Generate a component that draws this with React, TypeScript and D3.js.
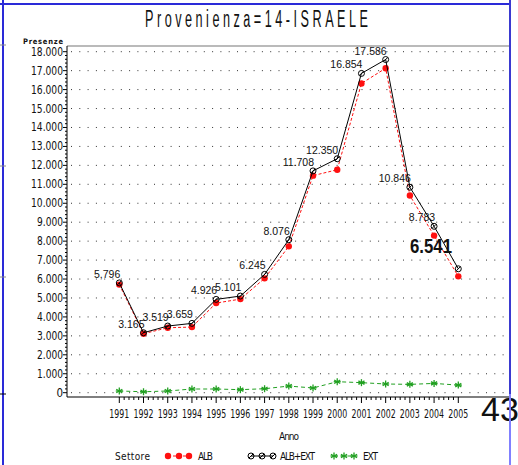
import * as d3 from 'd3';

// anni e valori (presenze)
const years = [1991, 1992, 1993, 1994, 1995, 1996, 1997, 1998, 1999, 2000, 2001, 2002, 2003, 2004, 2005];
const albExt = [5796, 3165, 3519, 3659, 4926, 5101, 6245, 8076, 11708, 12350, 16854, 17586, 10846, 8783, 6541];
const ext = [90, 50, 90, 195, 195, 160, 210, 350, 250, 580, 530, 460, 440, 490, 400];
const alb = [5706, 3115, 3429, 3464, 4731, 4941, 6035, 7726, 11458, 11770, 16324, 17126, 10406, 8293, 6141];
const pointLabels = ['5,796', '3.165', '3.519', '3.659', '4.926', '5.101', '6.245', '8.076', '11.708', '12.350', '16.854', '17.586', '10.846', '8.783', ''];
const yTicks = d3.range(0, 18001, 1000);

const W = 518;
const H = 465;
const axisFont = "'Liberation Sans Narrow', 'DejaVu Sans Condensed', 'Liberation Sans', sans-serif";
const labelFont = "'Liberation Sans', Arial, sans-serif";

const x = d3.scaleLinear().domain([1991, 2005]).range([119.3, 458.3]);
const y = d3.scaleLinear().domain([0, 18000]).range([392.7, 51.7]);

const AXIS_X = 67;
const AXIS_Y = 397;
const RIGHT = 510;
const TOP = 46;

function Star({ cx, cy, r = 3.5, color }: { cx: number; cy: number; r?: number; color: string }) {
  const angles = [0, 60, 120];
  return (
    <g stroke={color} strokeWidth={1.3}>
      {angles.map(a => {
        const rad = (a * Math.PI) / 180;
        return <line key={a} x1={cx - r * Math.sin(rad)} y1={cy - r * Math.cos(rad)} x2={cx + r * Math.sin(rad)} y2={cy + r * Math.cos(rad)} />;
      })}
      <line x1={cx - r} y1={cy} x2={cx + r} y2={cy} />
    </g>
  );
}

function CircleMark({ cx, cy }: { cx: number; cy: number }) {
  return (
    <g stroke="#000" fill="none" strokeWidth={1}>
      <circle cx={cx} cy={cy} r={3} />
      <line x1={cx - 2} y1={cy + 2} x2={cx + 2} y2={cy - 2} />
    </g>
  );
}

export default function App() {
  const lineGen = (vals: number[]) =>
    d3.line<number>().x((_, i) => x(years[i])).y(d => y(d))(vals) ?? '';

  const minorY = d3.range(0, 18001, 200).filter(v => v % 1000 !== 0);
  const minorX = d3.range(1991, 2005, 0.2).filter(v => Math.abs(v - Math.round(v)) > 0.01);
  const fmt = (v: number) => d3.format(',')(v).replace(',', '.');

  return (
    <svg width={W} height={H} style={{ position: 'absolute', left: 0, top: 0, background: '#fff' }}>
      {/* bordi blu della pagina */}
      <line x1={0} y1={4} x2={RIGHT} y2={4} stroke="#2a2ad8" strokeWidth={2} />
      <line x1={3} y1={0} x2={3} y2={H} stroke="#2a2ad8" strokeWidth={2} />
      {[45, 166, 277].map(v => <line key={v} x1={0} y1={v} x2={6} y2={v} stroke="#888" strokeWidth={1} />)}
      <line x1={0} y1={394} x2={6} y2={394} stroke="#000" strokeWidth={1} />

      {/* titolo: caratteri stretti e spaziati */}
      <text transform="translate(145,27) scale(0.55,1)" fontFamily={labelFont} fontSize={23}
        textLength={223 / 0.55} lengthAdjust="spacing" fill="#111">Provenienza=14-ISRAELE</text>

      {/* griglia puntinata */}
      {yTicks.map(t => (
        <line key={t} x1={AXIS_X + 4} x2={RIGHT} y1={y(t)} y2={y(t)} stroke="#333" strokeWidth={1} strokeDasharray="1,7.3" />
      ))}

      {/* cornice e assi */}
      <line x1={AXIS_X} y1={TOP} x2={RIGHT} y2={TOP} stroke="#777" strokeWidth={1.2} />
      <line x1={AXIS_X} y1={TOP} x2={AXIS_X} y2={AXIS_Y} stroke="#000" strokeWidth={1} />
      <line x1={AXIS_X} y1={AXIS_Y} x2={RIGHT} y2={AXIS_Y} stroke="#000" strokeWidth={1.2} />

      {yTicks.map(t => (
        <g key={t}>
          <line x1={AXIS_X - 4} x2={AXIS_X} y1={y(t)} y2={y(t)} stroke="#000" />
          <text x={63} y={y(t) + 4} textAnchor="end" fontFamily={axisFont} fontSize={11.5}
            textLength={t === 0 ? undefined : (t >= 10000 ? 32 : 26)} lengthAdjust="spacingAndGlyphs" fill="#111">
            {t === 0 ? '0' : fmt(t)}
          </text>
        </g>
      ))}
      {minorY.map(t => <line key={t} x1={AXIS_X - 2} x2={AXIS_X} y1={y(t)} y2={y(t)} stroke="#000" />)}
      <text x={63} y={44} textAnchor="end" fontFamily={axisFont} fontSize={7.5} fontWeight={700}
        textLength={40} lengthAdjust="spacing" fill="#111">Presenze</text>

      {years.map(yr => (
        <g key={yr}>
          <line x1={x(yr)} x2={x(yr)} y1={AXIS_Y} y2={AXIS_Y + 6} stroke="#000" />
          <text x={x(yr)} y={418} textAnchor="middle" fontFamily={axisFont} fontSize={11.5}
            textLength={20} lengthAdjust="spacingAndGlyphs" fill="#111">{yr}</text>
        </g>
      ))}
      {minorX.map(v => <line key={v} x1={x(v)} x2={x(v)} y1={AXIS_Y} y2={AXIS_Y + 3} stroke="#000" />)}
      <text x={289} y={440} textAnchor="middle" fontFamily={axisFont} fontSize={10}
        textLength={20} lengthAdjust="spacing" fill="#111">Anno</text>

      {/* serie EXT */}
      <path d={lineGen(ext)} fill="none" stroke="#22a022" strokeWidth={1} strokeDasharray="4,3" />
      {ext.map((v, i) => <Star key={i} cx={x(years[i])} cy={y(v)} color="#22a022" />)}

      {/* serie ALB */}
      <path d={lineGen(alb)} fill="none" stroke="#ff1010" strokeWidth={1} strokeDasharray="3,2" />
      {alb.map((v, i) => <circle key={i} cx={x(years[i])} cy={y(v)} r={3.2} fill="#ff1010" />)}

      {/* serie ALB+EXT */}
      <path d={lineGen(albExt)} fill="none" stroke="#000" strokeWidth={1} />
      {albExt.map((v, i) => <CircleMark key={i} cx={x(years[i])} cy={y(v)} />)}
      {albExt.map((v, i) => (
        <text key={i} x={x(years[i]) + 1} y={y(v) - 5} textAnchor="end" fontFamily={labelFont} fontSize={10.5}
          fill="#111">{pointLabels[i]}</text>
      ))}
      <text x={410} y={253} fontFamily={labelFont} fontSize={21} fontWeight={700}
        textLength={42} lengthAdjust="spacingAndGlyphs" fill="#111">{fmt(albExt[14])}</text>

      {/* legenda */}
      <text x={115} y={460} fontFamily={axisFont} fontSize={10} textLength={35} lengthAdjust="spacing" fill="#111">Settore</text>
      <line x1={168} x2={189} y1={456} y2={456} stroke="#ff1010" strokeDasharray="3,2" />
      {[168, 179, 189].map(c => <circle key={c} cx={c} cy={456} r={3.2} fill="#ff1010" />)}
      <text x={198} y={460} fontFamily={axisFont} fontSize={10} textLength={15} lengthAdjust="spacing" fill="#111">ALB</text>
      <line x1={251} x2={273} y1={456} y2={456} stroke="#000" />
      {[251, 262, 273].map(c => <CircleMark key={c} cx={c} cy={456} />)}
      <text x={280} y={460} fontFamily={axisFont} fontSize={10} textLength={35} lengthAdjust="spacing" fill="#111">ALB+EXT</text>
      <line x1={334} x2={354} y1={456} y2={456} stroke="#22a022" strokeDasharray="4,3" />
      {[334, 344, 354].map(c => <Star key={c} cx={c} cy={456} color="#22a022" />)}
      <text x={363} y={460} fontFamily={axisFont} fontSize={10} textLength={15} lengthAdjust="spacing" fill="#111">EXT</text>

      {/* numero di pagina */}
      <text x={481} y={421} fontFamily={labelFont} fontSize={34} fontWeight={300} fill="#111">43</text>
      <line x1={RIGHT} y1={0} x2={RIGHT} y2={394} stroke="#3a3ad0" strokeWidth={2} />
      <line x1={RIGHT} y1={394} x2={RIGHT} y2={H} stroke="#8080ff" strokeWidth={2} />
    </svg>
  );
}
